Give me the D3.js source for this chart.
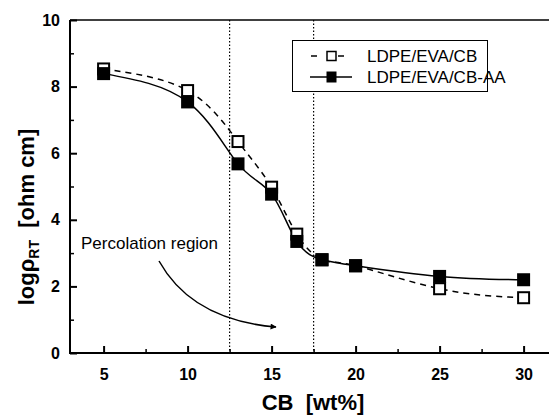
<!DOCTYPE html>
<html><head><meta charset="utf-8">
<script src="https://cdn.jsdelivr.net/npm/d3@7"></script>
<style>body{margin:0;background:#fff}svg{display:block}text{font-family:Arial,"Liberation Sans",sans-serif}</style>
</head><body>
<svg id="c" width="549" height="416"></svg>
<script>
const cbWt = [5, 10, 13, 15, 16.5, 18, 20, 25, 30];
const seriesCB = [8.53, 7.88, 6.35, 4.98, 3.57, 2.8, 2.62, 1.93, 1.66];
const seriesCBAA = [8.39, 7.54, 5.68, 4.77, 3.35, 2.8, 2.62, 2.3, 2.2];
const xTicks = [5, 10, 15, 20, 25, 30];
const xMinor = [7.5, 12.5, 17.5, 22.5, 27.5];
const yTicks = [0, 2, 4, 6, 8, 10];
const yMinor = [1, 3, 5, 7, 9];
const percolationBounds = [12.5, 17.5];
const legendLabels = ["LDPE/EVA/CB", "LDPE/EVA/CB-AA"];

const svg = d3.select("#c");
const x = d3.scaleLinear().domain([3, 32]).range([70, 70 + 29 * 16.8]);
const y = d3.scaleLinear().domain([0, 10]).range([353, 20]);

// percolation dotted lines
svg.selectAll(".perc").data(percolationBounds).join("line")
  .attr("x1", d => x(d)).attr("x2", d => x(d)).attr("y1", y(10)).attr("y2", y(0))
  .attr("stroke", "#000").attr("stroke-width", 1.2).attr("stroke-dasharray", "1.5,2");

// axes lines
svg.append("line").attr("x1", x(3)).attr("x2", 549).attr("y1", y(10)).attr("y2", y(10)).attr("stroke", "#000").attr("stroke-width", 1.5);
svg.append("line").attr("x1", x(3)).attr("x2", x(3)).attr("y1", y(10)).attr("y2", y(0) + 1).attr("stroke", "#000").attr("stroke-width", 2);
svg.append("line").attr("x1", x(3) - 1).attr("x2", 549).attr("y1", y(0)).attr("y2", y(0)).attr("stroke", "#000").attr("stroke-width", 2);

// ticks
const xAxis = d3.axisBottom(x).tickValues(xTicks).tickSize(-7).tickPadding(16).tickFormat(d3.format("d"));
const gx = svg.append("g").attr("transform", `translate(0,${y(0)})`).call(xAxis);
gx.select(".domain").remove();
gx.selectAll("line").attr("stroke-width", 2);
gx.selectAll("text").attr("font-size", 16).attr("font-weight", "bold").attr("fill", "#000");
const gxm = svg.append("g").attr("transform", `translate(0,${y(0)})`).call(d3.axisBottom(x).tickValues(xMinor).tickSize(-4).tickFormat(""));
gxm.select(".domain").remove(); gxm.selectAll("line").attr("stroke-width", 1.5);

const yAxis = d3.axisLeft(y).tickValues(yTicks).tickSize(-7).tickPadding(10).tickFormat(d3.format("d"));
const gy = svg.append("g").attr("transform", `translate(${x(3)},0)`).call(yAxis);
gy.select(".domain").remove();
gy.selectAll("line").attr("stroke-width", 2);
gy.selectAll("text").attr("font-size", 16).attr("font-weight", "bold").attr("fill", "#000");
const gym = svg.append("g").attr("transform", `translate(${x(3)},0)`).call(d3.axisLeft(y).tickValues(yMinor).tickSize(-4).tickFormat(""));
gym.select(".domain").remove(); gym.selectAll("line").attr("stroke-width", 1.5);

// curves
const line = d3.line().x((d, i) => x(cbWt[i])).y(d => y(d)).curve(d3.curveNatural);
svg.append("path").attr("d", line(seriesCB)).attr("fill", "none").attr("stroke", "#000").attr("stroke-width", 1.5).attr("stroke-dasharray", "6,5");
svg.append("path").attr("d", line(seriesCBAA)).attr("fill", "none").attr("stroke", "#000").attr("stroke-width", 1.5);

// markers
const s = 13;
svg.selectAll(".mo").data(seriesCB).join("rect")
  .attr("x", (d, i) => x(cbWt[i]) - s / 2 + 1).attr("y", d => y(d) - s / 2 + 1)
  .attr("width", s - 2).attr("height", s - 2).attr("fill", "#fff").attr("stroke", "#000").attr("stroke-width", 2);
svg.selectAll(".mf").data(seriesCBAA).join("rect")
  .attr("x", (d, i) => x(cbWt[i]) - s / 2).attr("y", d => y(d) - s / 2)
  .attr("width", s).attr("height", s).attr("fill", "#000");

// legend
const lg = svg.append("g");
lg.append("rect").attr("x", 292.5).attr("y", 40.5).attr("width", 195).attr("height", 51).attr("fill", "#fff").attr("stroke", "#000").attr("stroke-width", 1);
const r1 = 56, r2 = 77;
lg.append("line").attr("x1", 311).attr("x2", 317).attr("y1", r1).attr("y2", r1).attr("stroke", "#000").attr("stroke-width", 1.5);
lg.append("line").attr("x1", 338).attr("x2", 344).attr("y1", r1).attr("y2", r1).attr("stroke", "#000").attr("stroke-width", 1.5);
lg.append("rect").attr("x", 327).attr("y", r1 - 4.5).attr("width", 9).attr("height", 9).attr("fill", "#fff").attr("stroke", "#000").attr("stroke-width", 1.5);
lg.append("line").attr("x1", 310).attr("x2", 352).attr("y1", r2).attr("y2", r2).attr("stroke", "#000").attr("stroke-width", 1.5);
lg.append("rect").attr("x", 326.5).attr("y", r2 - 5.5).attr("width", 10).attr("height", 11).attr("fill", "#000");
lg.selectAll(".lt").data(legendLabels).join("text")
  .attr("x", 367).attr("y", (d, i) => [r1, r2][i]).attr("dy", "0.36em")
  .attr("font-size", 17).attr("fill", "#000").text(d => d);

// annotation
svg.append("text").attr("x", 81).attr("y", 243).attr("dy", "0.36em").attr("font-size", 17).attr("fill", "#000").text("Percolation region");
svg.append("defs").append("marker").attr("id", "ah").attr("viewBox", "0 0 10 10").attr("refX", 9).attr("refY", 5)
  .attr("markerWidth", 8).attr("markerHeight", 6).attr("markerUnits", "userSpaceOnUse").attr("orient", "auto")
  .append("path").attr("d", "M0,0L10,5L0,10z").attr("fill", "#000");
svg.append("path").attr("d", "M159,261 Q192,320 276,327").attr("fill", "none").attr("stroke", "#000").attr("stroke-width", 1.5).attr("marker-end", "url(#ah)");

// axis titles
svg.append("text").attr("x", 313).attr("y", 410).attr("text-anchor", "middle").attr("font-size", 22).attr("font-weight", "bold").attr("fill", "#000")
  .attr("xml:space", "preserve").text("CB  [wt%]");
const yl = svg.append("text").attr("transform", "translate(34,217) rotate(-90)").attr("text-anchor", "middle")
  .attr("font-size", 22).attr("font-weight", "bold").attr("fill", "#000").attr("xml:space", "preserve");
yl.append("tspan").text("logρ");
yl.append("tspan").attr("font-size", 14).attr("dy", 5).text("RT");
yl.append("tspan").attr("dy", -5).text("  [ohm cm]");
</script>
</body></html>
